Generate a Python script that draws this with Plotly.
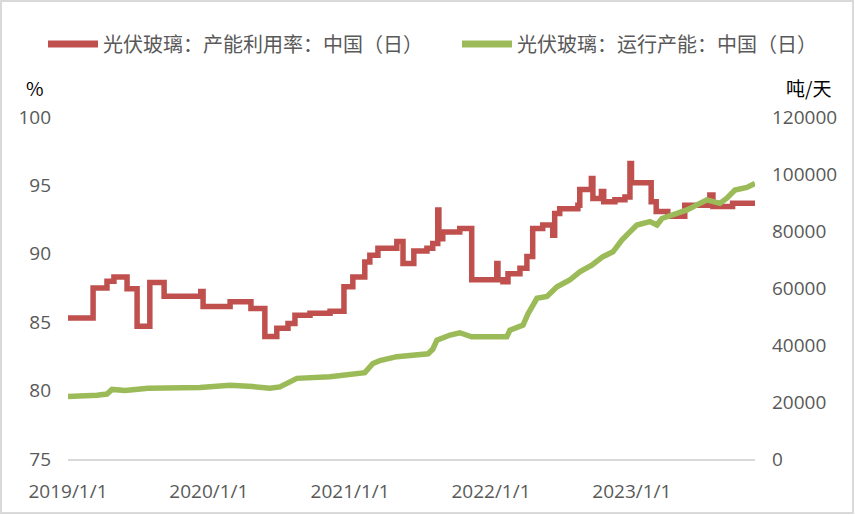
import plotly.graph_objects as go

# ---- data ----
util_dates = [
    "2019-01-01", "2019-03-07", "2019-04-12", "2019-04-30", "2019-06-03", "2019-06-29",
    "2019-08-01", "2019-09-07", "2019-12-11", "2019-12-17", "2020-02-25", "2020-04-19",
    "2020-05-25", "2020-06-25", "2020-07-24", "2020-08-11", "2020-09-19", "2020-11-10",
    "2020-12-16", "2021-01-08", "2021-02-08", "2021-02-21", "2021-03-14", "2021-05-02",
    "2021-05-18", "2021-06-15", "2021-07-19", "2021-08-03", "2021-08-16", "2021-08-19",
    "2021-08-29", "2021-10-12", "2021-11-12", "2022-01-16", "2022-01-19", "2022-02-01",
    "2022-02-14", "2022-03-17", "2022-04-04", "2022-04-19", "2022-05-15", "2022-06-10",
    "2022-06-15", "2022-06-28", "2022-08-14", "2022-08-19", "2022-09-18", "2022-09-22",
    "2022-10-14", "2022-10-20", "2022-11-18", "2022-12-14", "2022-12-27", "2022-12-31",
    "2023-02-20", "2023-03-05", "2023-04-04", "2023-05-18", "2023-07-22", "2023-07-30",
    "2023-09-19", "2023-11-16",
]
util_values = [
    85.3, 87.5, 88.0, 88.3, 87.45, 84.7,
    87.9, 86.9, 87.25, 86.15, 86.5, 86.0,
    83.95, 84.55, 84.9, 85.5, 85.65, 85.8,
    87.6, 88.3, 89.4, 89.9, 90.4, 90.9,
    89.3, 90.2, 90.4, 90.75, 93.2, 91.1,
    91.6, 91.85, 88.1, 89.3, 88.1, 87.95,
    88.55, 88.95, 89.8, 91.85, 92.1, 91.35,
    92.95, 93.3, 93.55, 94.7, 95.5, 94.05,
    94.55, 93.8, 93.95, 94.15, 96.6, 95.2,
    93.8, 93.1, 92.75, 93.55, 94.3, 93.45,
    93.7, 93.8,
]

cap_dates = [
    "2019-01-01", "2019-03-04", "2019-03-17", "2019-04-12", "2019-04-25", "2019-05-29",
    "2019-07-27", "2019-12-09", "2020-02-25", "2020-04-24", "2020-06-07", "2020-07-03",
    "2020-07-29", "2020-08-16", "2020-11-10", "2020-12-13", "2021-02-08", "2021-03-01",
    "2021-03-19", "2021-05-02", "2021-06-05", "2021-07-22", "2021-08-03", "2021-08-14",
    "2021-09-17", "2021-10-12", "2021-11-12", "2022-02-11", "2022-02-19", "2022-03-25",
    "2022-04-07", "2022-04-30", "2022-05-26", "2022-06-21", "2022-07-24", "2022-08-19",
    "2022-09-19", "2022-10-18", "2022-11-13", "2022-12-06", "2022-12-27", "2023-01-14",
    "2023-02-17", "2023-03-07", "2023-03-20", "2023-04-17", "2023-05-24", "2023-06-26",
    "2023-07-14", "2023-08-17", "2023-09-04", "2023-09-25", "2023-10-26", "2023-11-16",
]
cap_values = [
    21900, 22000, 22400, 22800, 24400, 24000,
    24800, 25100, 25900, 25400, 24800, 25300,
    27100, 28300, 28900, 29400, 30300, 33500,
    34500, 35900, 36500, 36900, 38500, 41700,
    43500, 44300, 42900, 42900, 45200, 47000,
    51000, 56400, 57000, 60400, 62800, 65700,
    68000, 71000, 72700, 76800, 79700, 82100,
    83300, 82100, 84400, 85600, 87400, 89700,
    90900, 89700, 91500, 94400, 95300, 96700,
]

x_tick_vals = ["2019-01-01", "2020-01-01", "2021-01-01", "2022-01-01", "2023-01-01"]
x_tick_text = ["2019/1/1", "2020/1/1", "2021/1/1", "2022/1/1", "2023/1/1"]
y_left_ticks = [75, 80, 85, 90, 95, 100]
y_right_ticks = [0, 20000, 40000, 60000, 80000, 100000, 120000]
y_right_text = ["0", "20000", "40000", "60000", "80000", "100000", "120000"]

name_util = "光伏玻璃：产能利用率：中国（日）"
name_cap = "光伏玻璃：运行产能：中国（日）"

RED = "#C0504D"
GREEN = "#9BBB59"
GREY = "#595959"
TICK_FONT = dict(family="Open Sans, Liberation Sans, sans-serif", size=19, color=GREY)
CJK = "Noto Sans CJK SC, sans-serif"

fig = go.Figure()
fig.add_trace(go.Scatter(
    x=util_dates, y=util_values, name=name_util, mode="lines",
    line=dict(color=RED, width=5.5, shape="hv"), yaxis="y", showlegend=False,
))
fig.add_trace(go.Scatter(
    x=cap_dates, y=cap_values, name=name_cap, mode="lines",
    line=dict(color=GREEN, width=5.5, shape="linear"), yaxis="y2", showlegend=False,
))

fig.update_layout(
    width=855, height=515,
    margin=dict(l=68, r=100, t=117, b=56),
    paper_bgcolor="white", plot_bgcolor="white",
    xaxis=dict(
        type="date", range=[util_dates[0], util_dates[-1]],
        tickvals=x_tick_vals, ticktext=x_tick_text, tickfont=TICK_FONT,
        showgrid=False, zeroline=False, showline=True, linecolor="#D9D9D9", linewidth=2,
        ticks="", ticklabelstandoff=14, automargin=False,
    ),
    yaxis=dict(
        range=[75, 100], tickvals=y_left_ticks, tickfont=TICK_FONT,
        showgrid=False, zeroline=False, showline=False, ticks="", ticklabelstandoff=16,
        automargin=False,
    ),
    yaxis2=dict(
        range=[0, 120000], tickvals=y_right_ticks, ticktext=y_right_text, tickfont=TICK_FONT,
        overlaying="y", side="right", showgrid=False, zeroline=False, showline=False,
        ticks="", ticklabelstandoff=16, automargin=False,
    ),
)

# manual legend (long line samples as in the reference)
legend_items = [(name_util, RED, -0.0291, 0.0437, 0.048), (name_cap, GREEN, 0.5735, 0.6463, 0.6507)]
for label, color, lx0, lx1, tx in legend_items:
    fig.add_shape(type="line", xref="paper", yref="paper", x0=lx0, x1=lx1, y0=1.2135, y1=1.2135,
                  line=dict(color=color, width=7))
    fig.add_annotation(text=label, xref="paper", yref="paper", x=tx, y=1.2135,
                       xanchor="left", yanchor="middle", showarrow=False,
                       font=dict(family=CJK, size=20, color=GREY))

# axis unit labels
fig.add_annotation(text="%", xref="paper", yref="paper", x=-0.048, y=1.085,
                   xanchor="center", yanchor="middle", showarrow=False, borderpad=0,
                   font=dict(family=CJK, size=19, color="black"))
fig.add_annotation(text="吨/天", xref="paper", yref="paper", x=1.0786, y=1.085,
                   xanchor="center", yanchor="middle", showarrow=False, borderpad=0,
                   font=dict(family=CJK, size=19, color="black"))

# outer chart border
fig.add_shape(type="rect", xref="paper", yref="paper", x0=-0.0975, x1=1.1426, y0=-0.158, y1=1.339,
              line=dict(color="#D9D9D9", width=2), fillcolor="rgba(0,0,0,0)", layer="below")

fig.write_html(
    "out.html",
    config={"displayModeBar": False},
    post_script="document.body.style.margin='0';document.body.style.overflow='hidden';",
)
